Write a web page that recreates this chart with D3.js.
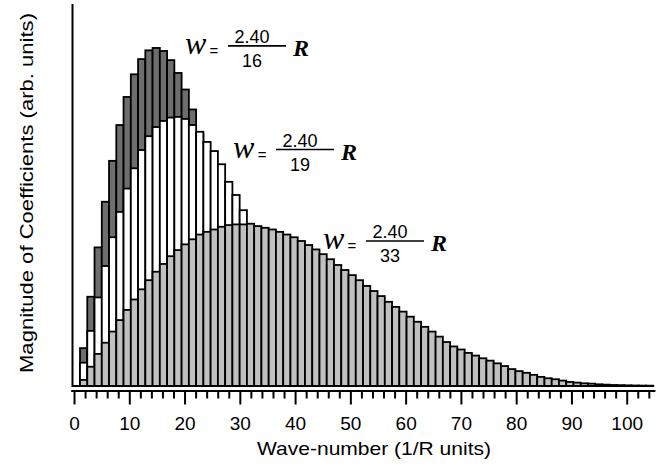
<!DOCTYPE html>
<html>
<head>
<meta charset="utf-8">
<script src="https://cdn.jsdelivr.net/npm/d3@7"></script>
<style>
  html, body { margin: 0; padding: 0; background: #fff; }
  svg { display: block; }
</style>
</head>
<body>
<svg id="chart" width="670" height="466"></svg>
<script>
// ---------- data ----------
// bins along the wave-number axis (1/R units)
const binStart = 1.085;
const binWidth = 1.313;

// w = 2.40/16 R  (dark bars)
const series16 = [11.2, 26.4, 41.0, 54.5, 66.6, 77.2, 85.5, 92.2, 96.7, 99.3,
  100, 99.1, 96.4, 92.6, 87.7, 81.8, 74.5, 66, 58, 50,
  43, 36, 30, 25, 20, 16, 13, 10, 8, 6,
  4.5, 3.5, 2.5, 2, 1.5, 1, 0.8, 0.6, 0.4, 0.3,
  0.2, 0, 0, 0, 0, 0, 0, 0, 0, 0,
  0, 0, 0, 0, 0, 0, 0, 0, 0, 0,
  0, 0, 0, 0, 0, 0, 0, 0, 0, 0,
  0, 0, 0, 0, 0, 0, 0, 0, 0];

// w = 2.40/19 R  (white bars)
const series19 = [6.9, 16.3, 26.2, 35.5, 44.0, 51.5, 58.4, 64.4, 69.8, 73.9,
  76.6, 78.4, 79.4, 79.6, 79.0, 77.2, 75.2, 72.2, 69.5, 65.6,
  60.4, 56.5, 52.0, 46.5, 42, 38, 34, 30, 26.5, 23,
  20, 17, 14.5, 12.5, 10.5, 9, 7.5, 6, 5, 4,
  3.2, 2.5, 2, 1.5, 1.2, 0.9, 0.7, 0.5, 0.4, 0.3,
  0.2, 0.1, 0, 0, 0, 0, 0, 0, 0, 0,
  0, 0, 0, 0, 0, 0, 0, 0, 0, 0,
  0, 0, 0, 0, 0, 0, 0, 0, 0];

// w = 2.40/33 R  (light grey bars)
const series33 = [1.8, 5.7, 9.5, 12.8, 16.1, 19.5, 22.5, 25.6, 28.6, 31.3,
  33.8, 36.1, 38.4, 40.2, 41.9, 43.4, 44.8, 45.6, 46.3, 47.1,
  47.6, 47.8, 47.8, 48.0, 47.3, 46.8, 46.3, 45.6, 44.8, 44.0,
  42.9, 41.7, 40.4, 39.0, 37.5, 35.8, 34.3, 32.8, 31.3, 29.6,
  28.1, 26.6, 24.9, 23.4, 22.0, 20.5, 19.0, 17.5, 16.1, 14.6,
  13.0, 11.7, 10.8, 9.8, 9.0, 8.2, 7.5, 6.7, 5.9, 5.0,
  4.4, 3.9, 3.3, 2.7, 2.3, 2.0, 1.6, 1.2, 1.0, 0.8,
  0.7, 0.5, 0.4, 0.3, 0.25, 0.2, 0.15, 0.12, 0.1];

const seriesList = [series16, series19, series33];
const seriesFill = ["#6e6e6e", "#ffffff", "#c0c0c0"];

const majorTicks = [0, 10, 20, 30, 40, 50, 60, 70, 80, 90, 100];
const minorTicks = d3.range(2, 105, 2).filter(v => v % 10 !== 0);

const labelNumerators = ["2.40", "2.40", "2.40"];
const labelDenominators = ["16", "19", "33"];
// annotation anchors in data units (wave-number, magnitude)
const labelAnchorX = [20.08, 28.77, 45.05];
const labelAnchorY = [100.6, 69.95, 42.9];

const xTitle = "Wave-number (1/R units)";
const yTitle = "Magnitude of Coefficients (arb. units)";

// ---------- scales ----------
const svg = d3.select("#chart");
const x = d3.scaleLinear().domain([-0.6, 105.1]).range([70.7, 654.9]);
const y = d3.scaleLinear().domain([0, 113]).range([386, 4]);
const sans = "'Liberation Sans', Arial, Helvetica, sans-serif";
const serif = "'Liberation Serif', 'Times New Roman', serif";

// ---------- bars ----------
seriesList.forEach((vals, k) => {
  svg.append("g")
    .selectAll("rect")
    .data(vals)
    .join("rect")
    .attr("x", (d, i) => x(binStart + i * binWidth))
    .attr("width", (d, i) => x(binStart + (i + 1) * binWidth) - x(binStart + i * binWidth))
    .attr("y", d => y(d))
    .attr("height", d => y(0) - y(d))
    .attr("fill", seriesFill[k])
    .attr("stroke", "#000")
    .attr("stroke-width", 1.8);
});

// baseline from y axis to end of bars
svg.append("line")
  .attr("x1", 72.5).attr("x2", x(binStart + series33.length * binWidth))
  .attr("y1", y(0)).attr("y2", y(0))
  .attr("stroke", "#000").attr("stroke-width", 2);

// y axis line (no ticks)
svg.append("line")
  .attr("x1", 72.5).attr("x2", 72.5)
  .attr("y1", y(113)).attr("y2", y(0) + 1)
  .attr("stroke", "#000").attr("stroke-width", 2);

// ---------- x axis ----------
const axisY = 390.5;
const gMajor = svg.append("g")
  .attr("transform", `translate(0,${axisY})`)
  .call(d3.axisBottom(x).tickValues(majorTicks).tickSize(14).tickSizeOuter(0).tickFormat(d3.format("d")));
const gMinor = svg.append("g")
  .attr("transform", `translate(0,${axisY})`)
  .call(d3.axisBottom(x).tickValues(minorTicks).tickSize(8).tickSizeOuter(0).tickFormat(""));
gMinor.select(".domain").remove();
[gMajor, gMinor].forEach(g => {
  g.selectAll(".domain").attr("stroke", "#000").attr("stroke-width", 2);
  g.selectAll(".tick line").attr("stroke", "#000").attr("stroke-width", 2);
});
gMajor.selectAll(".tick text")
  .attr("y", 39.5).attr("dy", null)
  .attr("fill", "#000")
  .style("font-family", sans).style("font-size", "19px");

// axis titles
svg.append("text")
  .attr("x", 374).attr("y", 455)
  .attr("text-anchor", "middle")
  .attr("textLength", 234).attr("lengthAdjust", "spacingAndGlyphs")
  .style("font-family", sans).style("font-size", "19px").attr("fill", "#000")
  .text(xTitle);

svg.append("text")
  .attr("transform", "translate(33,193) rotate(-90)")
  .attr("text-anchor", "middle")
  .attr("textLength", 360).attr("lengthAdjust", "spacingAndGlyphs")
  .style("font-family", sans).style("font-size", "19px").attr("fill", "#000")
  .text(yTitle);

// ---------- annotations ----------
labelDenominators.forEach((den, k) => {
  const g = svg.append("g")
    .attr("transform", `translate(${x(labelAnchorX[k])},${y(labelAnchorY[k])})`);
  g.append("text")
    .attr("x", 0).attr("y", 8)
    .style("font-family", serif).style("font-style", "italic").style("font-size", "32px")
    .text("w");
  g.append("text")
    .attr("x", 29).attr("y", 10).attr("text-anchor", "middle")
    .style("font-family", sans).style("font-size", "15px")
    .text("=");
  g.append("line")
    .attr("x1", 43).attr("x2", 101).attr("y1", 0).attr("y2", 0)
    .attr("stroke", "#000").attr("stroke-width", 1.6);
  g.append("text")
    .attr("x", 67).attr("y", -3).attr("text-anchor", "middle")
    .style("font-family", sans).style("font-size", "18px")
    .text(labelNumerators[k]);
  g.append("text")
    .attr("x", 67).attr("y", 21).attr("text-anchor", "middle")
    .style("font-family", sans).style("font-size", "18px")
    .text(den);
  g.append("text")
    .attr("x", 108).attr("y", 10)
    .style("font-family", serif).style("font-style", "italic").style("font-weight", "bold").style("font-size", "24px")
    .text("R");
});
</script>
</body>
</html>
